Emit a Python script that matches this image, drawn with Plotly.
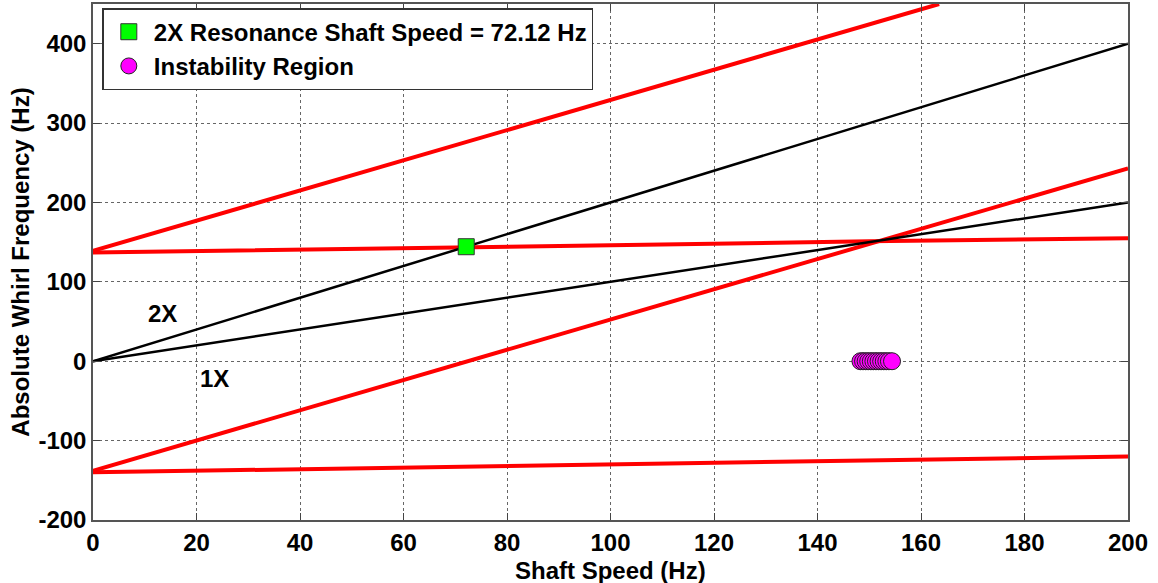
import plotly.graph_objects as go

# Shaft speed (Hz) and whirl frequency (Hz) data
speed_full = [0, 200]
one_x = [0, 200]
two_x = [0, 400]

fwd_upper_speed = [0, 50, 100, 163.5]
fwd_upper_freq = [139, 234, 329, 450]

flat_upper_speed = [0, 50, 100, 150, 200]
flat_upper_freq = [137, 141, 146, 151, 155]

fwd_lower_speed = [0, 50, 100, 150, 200]
fwd_lower_freq = [-138, -43, 52, 148, 243]

flat_lower_speed = [0, 50, 100, 150, 200]
flat_lower_freq = [-140, -135, -130, -125, -120]

resonance_speed = [72.12]
resonance_freq = [144.24]

instab_speed = [148.3, 148.8, 149.3, 149.8, 150.3, 150.8, 151.3, 151.8, 152.3, 152.8, 153.3, 153.8, 154.4]
instab_freq = [0] * len(instab_speed)

x_ticks = [0, 20, 40, 60, 80, 100, 120, 140, 160, 180, 200]
y_ticks = [-200, -100, 0, 100, 200, 300, 400]

FONT = "Arial, Liberation Sans, sans-serif"
FS = 24
fig = go.Figure()

red_line = dict(color="#ff0000", width=4)
for xs, ys in [(fwd_upper_speed, fwd_upper_freq), (flat_upper_speed, flat_upper_freq),
               (fwd_lower_speed, fwd_lower_freq), (flat_lower_speed, flat_lower_freq)]:
    fig.add_trace(go.Scatter(x=xs, y=ys, mode="lines", line=red_line, showlegend=False,
                             hoverinfo="skip"))

fig.add_trace(go.Scatter(x=speed_full, y=two_x, mode="lines", line=dict(color="black", width=2.5),
                         showlegend=False))
fig.add_trace(go.Scatter(x=speed_full, y=one_x, mode="lines", line=dict(color="black", width=2.5),
                         showlegend=False))

fig.add_trace(go.Scatter(x=resonance_speed, y=resonance_freq, mode="markers",
                         marker=dict(symbol="square", size=16, color="#00ff00",
                                     line=dict(color="#333333", width=1)),
                         name="2X Resonance Shaft Speed = 72.12 Hz"))
fig.add_trace(go.Scatter(x=instab_speed, y=instab_freq, mode="markers",
                         marker=dict(symbol="circle", size=17, color="#ff00ff",
                                     line=dict(color="#222222", width=1)),
                         name="Instability Region"))

fig.add_annotation(x=13.5, y=60, text="<b>2X</b>", showarrow=False,
                   font=dict(family=FONT, size=FS, color="black"))
fig.add_annotation(x=23.5, y=-22, text="<b>1X</b>", showarrow=False,
                   font=dict(family=FONT, size=FS, color="black"))
fig.add_annotation(x=0.5, xref="paper", y=-0.097, yref="paper", yanchor="middle",
                   text="<b>Shaft Speed (Hz)</b>", showarrow=False,
                   font=dict(family=FONT, size=FS, color="black"))

axis_common = dict(showline=True, linecolor="#555555", linewidth=1.5, mirror="allticks",
                   ticks="inside", ticklen=7, tickcolor="#444444", showgrid=True,
                   gridcolor="#666666", griddash="dot", gridwidth=1, zeroline=False,
                   tickfont=dict(family=FONT, size=FS, color="black"))

fig.update_xaxes(range=[0, 200], tickvals=x_ticks, ticktext=[f"<b>{v}</b>" for v in x_ticks],
                 **axis_common)
fig.update_yaxes(range=[-200, 450], tickvals=y_ticks, ticktext=[f"<b>{v}</b>" for v in y_ticks],
                 title=dict(text="<b>Absolute Whirl Frequency (Hz)</b>",
                            font=dict(family=FONT, size=FS, color="black"), standoff=2),
                 **axis_common)

fig.update_layout(
    width=1158, height=583,
    margin=dict(l=93, r=30, t=2, b=63),
    paper_bgcolor="white", plot_bgcolor="white",
    font=dict(family=FONT, color="black"),
    legend=dict(x=0.009, y=0.992, xanchor="left", yanchor="top",
                bgcolor="white", bordercolor="#333333", borderwidth=1.5,
                font=dict(family=FONT, size=FS, color="black"),
                itemwidth=40, tracegroupgap=0),
    showlegend=True,
)
fig.for_each_trace(lambda t: t.update(name=f"<b>{t.name}</b>") if t.showlegend is not False else None)

fig.write_html("out.html")
